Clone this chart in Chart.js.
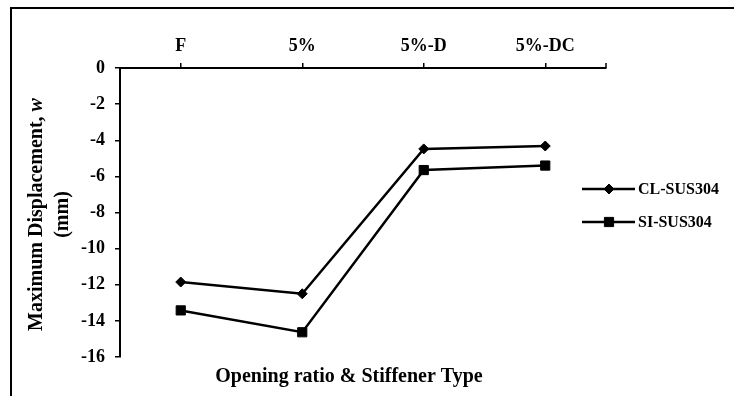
<!DOCTYPE html>
<html>
<head>
<meta charset="utf-8">
<script src="https://cdn.jsdelivr.net/npm/chart.js@4/dist/chart.umd.min.js"></script>
<style>
  html, body { margin: 0; padding: 0; background: #fff; }
  #wrap { width: 734px; height: 396px; position: relative; }
</style>
</head>
<body>
<div id="wrap"><canvas id="c" width="734" height="396"></canvas></div>
<script>
// Categories and measured maximum displacements (mm)
const categories = ['F', '5%', '5%-D', '5%-DC'];
const clSus304 = [-11.85, -12.5, -4.48, -4.32];
const siSus304 = [-13.42, -14.63, -5.65, -5.4];
const seriesNames = ['CL-SUS304', 'SI-SUS304'];
const yTitleParts = ['Maximum Displacement, ', 'w', '(mm)'];
const xTitleText = 'Opening ratio & Stiffener Type';

const FONT = "'Liberation Serif', 'Times New Roman', serif";

// Frame, axis titles (with italic symbol) and a line+marker legend
const decorations = {
  id: 'decorations',
  beforeDraw(chart) {
    const ctx = chart.ctx;
    ctx.save();
    ctx.fillStyle = '#fff';
    ctx.fillRect(0, 0, chart.width, chart.height);
    ctx.strokeStyle = '#000';
    ctx.lineWidth = 2;
    ctx.beginPath();
    ctx.moveTo(11, chart.height);
    ctx.lineTo(11, 8);
    ctx.lineTo(chart.width, 8);
    ctx.stroke();
    ctx.restore();
  },
  afterDraw(chart) {
    const ctx = chart.ctx;
    const a = chart.chartArea;
    const boldF = `bold 20px ${FONT}`;
    const italF = `italic bold 20px ${FONT}`;

    // closing tick at the right end of the category axis
    ctx.save();
    ctx.strokeStyle = '#000';
    ctx.lineWidth = 1.5;
    ctx.beginPath();
    ctx.moveTo(a.right, a.top);
    ctx.lineTo(a.right, a.top - 5);
    ctx.stroke();
    ctx.restore();

    // vertical axis title, two lines
    ctx.save();
    ctx.fillStyle = '#000';
    ctx.translate(37, (a.top + a.bottom) / 2 + 2);
    ctx.rotate(-Math.PI / 2);
    ctx.textBaseline = 'middle';
    ctx.font = boldF;
    const w1 = ctx.measureText(yTitleParts[0]).width;
    ctx.font = italF;
    const w2 = ctx.measureText(yTitleParts[1]).width;
    const x0 = -(w1 + w2) / 2;
    ctx.textAlign = 'left';
    ctx.font = boldF;
    ctx.fillText(yTitleParts[0], x0, 0);
    ctx.font = italF;
    ctx.fillText(yTitleParts[1], x0 + w1, 0);
    ctx.font = boldF;
    ctx.textAlign = 'center';
    ctx.fillText(yTitleParts[2], 0, 26);
    ctx.restore();

    // horizontal axis title below the plot
    ctx.save();
    ctx.fillStyle = '#000';
    ctx.font = boldF;
    ctx.textAlign = 'center';
    ctx.textBaseline = 'middle';
    ctx.fillText(xTitleText, 349, 377);
    ctx.restore();

    // legend: short line with the series marker, then its name
    const rows = [189, 222];
    chart.data.datasets.forEach((ds, i) => {
      const y = rows[i];
      ctx.save();
      ctx.strokeStyle = ds.borderColor;
      ctx.lineWidth = ds.borderWidth;
      ctx.beginPath();
      ctx.moveTo(582, y);
      ctx.lineTo(635, y);
      ctx.stroke();
      ctx.fillStyle = ds.pointBackgroundColor;
      ctx.strokeStyle = ds.pointBorderColor;
      ctx.lineWidth = ds.pointBorderWidth;
      Chart.helpers.drawPoint(ctx, {
        pointStyle: ds.pointStyle,
        radius: ds.pointRadius,
        rotation: 0,
        borderWidth: ds.pointBorderWidth
      }, 609, y);
      ctx.fillStyle = '#000';
      ctx.font = `bold 16px ${FONT}`;
      ctx.textAlign = 'left';
      ctx.textBaseline = 'middle';
      ctx.fillText(ds.label, 638, y + 1);
      ctx.restore();
    });
  }
};

const baseSeries = {
  borderColor: '#000',
  backgroundColor: '#000',
  pointBackgroundColor: '#000',
  pointBorderColor: '#000',
  pointBorderWidth: 1,
  borderWidth: 2.5,
  tension: 0,
  fill: false
};

new Chart(document.getElementById('c'), {
  type: 'line',
  data: {
    labels: categories,
    datasets: [
      Object.assign({}, baseSeries, {
        label: seriesNames[0],
        data: clSus304,
        pointStyle: 'rectRot',
        pointRadius: 5
      }),
      Object.assign({}, baseSeries, {
        label: seriesNames[1],
        data: siSus304,
        pointStyle: 'rect',
        pointRadius: 6.5
      })
    ]
  },
  options: {
    responsive: false,
    animation: false,
    devicePixelRatio: 1,
    layout: { padding: { left: 0, top: 0, right: 128, bottom: 39 } },
    plugins: {
      legend: { display: false },
      tooltip: { enabled: false },
      title: { display: false }
    },
    scales: {
      x: {
        type: 'category',
        position: 'top',
        offset: true,
        afterFit(scale) { scale.height = 68; },
        grid: {
          offset: false,
          drawOnChartArea: false,
          drawTicks: true,
          tickLength: 5,
          color: '#000',
          lineWidth: 1.5
        },
        border: { display: true, color: '#000', width: 2 },
        ticks: {
          color: '#000',
          padding: 6,
          maxRotation: 0,
          font: { family: FONT, size: 18, weight: 'bold' }
        }
      },
      y: {
        min: -16,
        max: 0,
        afterFit(scale) { scale.width = 120; },
        grid: {
          drawOnChartArea: false,
          drawTicks: true,
          tickLength: 5,
          color: '#000',
          lineWidth: 1.5
        },
        border: { display: true, color: '#000', width: 2 },
        ticks: {
          stepSize: 2,
          color: '#000',
          padding: 10,
          font: { family: FONT, size: 18, weight: 'bold' }
        }
      }
    }
  },
  plugins: [decorations]
});
</script>
</body>
</html>
